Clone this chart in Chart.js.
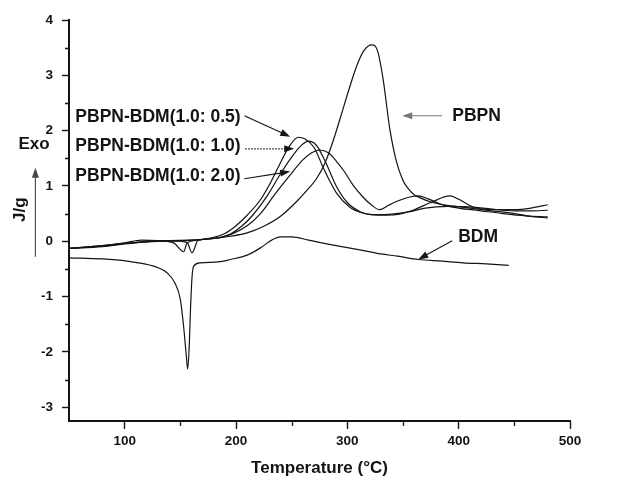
<!DOCTYPE html>
<html>
<head>
<meta charset="utf-8">
<script src="https://cdn.jsdelivr.net/npm/chart.js@4.4.1/dist/chart.umd.min.js"></script>
<style>
  html, body { margin: 0; padding: 0; background: #fff; }
  #wrap { width: 622px; height: 482px; }
</style>
</head>
<body>
<div id="wrap"><canvas id="dscChart" width="622" height="482"></canvas></div>
<script>
// DSC traces: temperature (°C) vs heat flow (J/g)
const pbpnTemp = [50, 75, 100, 120, 140, 160, 180, 195, 210, 225, 240, 256, 265, 272, 280, 287, 294, 302, 309, 315, 322, 327, 332, 338, 344, 350, 354, 360, 366, 375, 390, 410, 430, 450, 465, 480];
const pbpnFlow = [-0.13, -0.09, -0.04, -0.01, 0.0, 0.02, 0.05, 0.09, 0.15, 0.27, 0.45, 0.75, 0.95, 1.12, 1.42, 1.8, 2.25, 2.78, 3.2, 3.45, 3.55, 3.45, 2.95, 2.05, 1.45, 1.1, 0.97, 0.84, 0.78, 0.71, 0.65, 0.6, 0.55, 0.5, 0.45, 0.42];

const mix05Temp = [50, 80, 100, 115, 130, 144, 153, 156, 165, 180, 190, 200, 210, 222, 230, 237, 248, 256, 262, 270, 279, 290, 302, 312, 322, 335, 347, 360, 375, 392, 400, 413, 430, 450, 465, 480];
const mix05Flow = [-0.13, -0.08, -0.03, 0.02, 0.01, -0.03, -0.19, -0.03, 0.02, 0.07, 0.14, 0.28, 0.47, 0.75, 1.02, 1.3, 1.72, 1.88, 1.85, 1.7, 1.3, 0.88, 0.62, 0.52, 0.48, 0.47, 0.49, 0.57, 0.7, 0.82, 0.76, 0.62, 0.57, 0.57, 0.6, 0.66];

const mix10Temp = [50, 80, 100, 120, 140, 156, 160.5, 166, 180, 195, 205, 215, 228, 240, 250, 258, 265, 272, 280, 290, 300, 312, 325, 340, 355, 370, 390, 410, 430, 450, 465, 480];
const mix10Flow = [-0.13, -0.09, -0.04, 0.0, 0.01, -0.02, -0.21, 0.02, 0.05, 0.13, 0.27, 0.47, 0.82, 1.22, 1.52, 1.72, 1.81, 1.74, 1.45, 1.0, 0.7, 0.53, 0.48, 0.49, 0.53, 0.6, 0.63, 0.62, 0.58, 0.55, 0.55, 0.56];

const mix20Temp = [50, 80, 100, 120, 140, 160, 180, 195, 210, 222, 235, 248, 260, 268, 275, 283, 290, 297, 305, 314, 322, 329, 337, 347, 356, 364, 372, 385, 400, 420, 440, 460, 480];
const mix20Flow = [-0.13, -0.1, -0.05, -0.01, 0.01, 0.02, 0.05, 0.12, 0.28, 0.5, 0.85, 1.18, 1.47, 1.6, 1.65, 1.6, 1.45, 1.27, 1.02, 0.8, 0.65, 0.57, 0.65, 0.74, 0.8, 0.82, 0.77, 0.66, 0.6, 0.55, 0.5, 0.46, 0.44];

const bdmTemp = [50, 80, 102, 126, 138, 145, 150, 153, 155.5, 156.6, 158, 159, 160.5, 162, 168, 186, 195, 210, 222, 232, 240, 250, 265, 285, 310, 330, 345, 364, 385, 404, 425, 445];
const bdmFlow = [-0.3, -0.32, -0.36, -0.45, -0.57, -0.75, -1.05, -1.55, -2.1, -2.31, -1.9, -1.3, -0.65, -0.45, -0.39, -0.37, -0.33, -0.25, -0.12, 0.02, 0.08, 0.08, 0.02, -0.06, -0.15, -0.23, -0.27, -0.33, -0.36, -0.39, -0.41, -0.435];

const xTickValues = [100, 200, 300, 400, 500];
const xMinorValues = [150, 250, 350, 450];
const yTickValues = [-3, -2, -1, 0, 1, 2, 3, 4];
const yMinorValues = [-2.5, -1.5, -0.5, 0.5, 1.5, 2.5, 3.5];

const FONT = '"Liberation Sans", Arial, sans-serif';
const INK = '#141414';

const toPoints = (xs, ys) => xs.map((x, i) => ({ x: x, y: ys[i] }));

// labels and arrows, positions in data units
const callouts = [
    { text: 'PBPN-BDM(1.0: 0.5)', at: [55.7, 2.25], from: [207.5, 2.27], to: [248.7, 1.89] },
    { text: 'PBPN-BDM(1.0: 1.0)', at: [55.7, 1.71], from: [208.3, 1.67], to: [252.3, 1.67], dash: [1.5, 1.5] },
    { text: 'PBPN-BDM(1.0: 2.0)', at: [55.7, 1.18], from: [207.5, 1.13], to: [248.7, 1.26] },
    { text: 'PBPN', at: [394.2, 2.27], from: [385.2, 2.27], to: [349.3, 2.27], color: '#777' },
    { text: 'BDM', at: [399.6, 0.065], from: [394.2, 0.01], to: [363.7, -0.33] }
];

function drawArrow(ctx, x1, y1, x2, y2, color, dash) {
    const ang = Math.atan2(y2 - y1, x2 - x1);
    const head = 10, half = 3.5;
    const c = Math.cos(ang), s = Math.sin(ang);
    ctx.save();
    ctx.strokeStyle = color;
    ctx.fillStyle = color;
    ctx.lineWidth = 1.1;
    if (dash) ctx.setLineDash(dash);
    ctx.beginPath();
    ctx.moveTo(x1, y1);
    ctx.lineTo(x2 - c * head * 0.7, y2 - s * head * 0.7);
    ctx.stroke();
    ctx.setLineDash([]);
    ctx.beginPath();
    ctx.moveTo(x2, y2);
    ctx.lineTo(x2 - c * head + s * half, y2 - s * head - c * half);
    ctx.lineTo(x2 - c * head - s * half, y2 - s * head + c * half);
    ctx.closePath();
    ctx.fill();
    ctx.restore();
}

const annotationPlugin = {
    id: 'dscAnnotations',
    afterDraw(chart) {
        const ctx = chart.ctx;
        const xs = chart.scales.x, ys = chart.scales.y;
        const px = v => xs.getPixelForValue(v);
        const py = v => ys.getPixelForValue(v);
        const area = chart.chartArea;

        // minor ticks
        ctx.save();
        ctx.strokeStyle = INK;
        ctx.lineWidth = 1.3;
        ctx.beginPath();
        xMinorValues.forEach(v => {
            const x = Math.round(px(v)) + 0.5;
            ctx.moveTo(x, area.bottom);
            ctx.lineTo(x, area.bottom + 5);
        });
        yMinorValues.forEach(v => {
            const y = Math.round(py(v)) + 0.5;
            ctx.moveTo(area.left, y);
            ctx.lineTo(area.left - 4, y);
        });
        ctx.stroke();
        ctx.restore();

        // callouts
        ctx.save();
        ctx.font = 'bold 17.5px ' + FONT;
        ctx.textBaseline = 'middle';
        ctx.textAlign = 'left';
        callouts.forEach(c => {
            ctx.fillStyle = INK;
            ctx.fillText(c.text, px(c.at[0]), py(c.at[1]));
            drawArrow(ctx, px(c.from[0]), py(c.from[1]), px(c.to[0]), py(c.to[1]), c.color || INK, c.dash);
        });

        // Exo marker and J/g unit on the left
        ctx.font = 'bold 17px ' + FONT;
        ctx.fillStyle = INK;
        ctx.fillText('Exo', px(4.6), py(1.76));
        drawArrow(ctx, px(19.8), py(-0.28), px(19.8), py(1.33), '#444');
        ctx.translate(px(6.4), py(0.57));
        ctx.rotate(-Math.PI / 2);
        ctx.textAlign = 'center';
        ctx.fillText('J/g', 0, 0);
        ctx.restore();
    }
};

const lineStyle = {
    borderColor: INK,
    borderWidth: 1.2,
    pointRadius: 0,
    fill: false,
    cubicInterpolationMode: 'monotone'
};

new Chart(document.getElementById('dscChart'), {
    type: 'line',
    data: {
        datasets: [
            Object.assign({ label: 'PBPN', data: toPoints(pbpnTemp, pbpnFlow) }, lineStyle),
            Object.assign({ label: 'PBPN-BDM(1.0: 0.5)', data: toPoints(mix05Temp, mix05Flow) }, lineStyle),
            Object.assign({ label: 'PBPN-BDM(1.0: 1.0)', data: toPoints(mix10Temp, mix10Flow) }, lineStyle),
            Object.assign({ label: 'PBPN-BDM(1.0: 2.0)', data: toPoints(mix20Temp, mix20Flow) }, lineStyle),
            Object.assign({ label: 'BDM', data: toPoints(bdmTemp, bdmFlow) }, lineStyle)
        ]
    },
    options: {
        responsive: false,
        animation: false,
        layout: { padding: { left: 0, right: 52, top: 20, bottom: 0 } },
        plugins: {
            legend: { display: false },
            tooltip: { enabled: false }
        },
        scales: {
            x: {
                type: 'linear',
                min: 50,
                max: 500,
                afterBuildTicks: s => { s.ticks = xTickValues.map(v => ({ value: v })); },
                afterFit: s => { s.height = 61; },
                grid: { display: true, drawOnChartArea: false, drawTicks: true, tickLength: 8, tickWidth: 1.4, tickColor: INK },
                border: { display: true, color: INK, width: 2 },
                ticks: { color: INK, padding: 4, maxRotation: 0, font: { family: FONT, size: 13.5, weight: 'bold' } },
                title: {
                    display: true,
                    text: 'Temperature (°C)',
                    color: INK,
                    padding: { top: 0, bottom: 3 },
                    font: { family: FONT, size: 17, weight: 'bold' }
                }
            },
            y: {
                type: 'linear',
                min: -3.25,
                max: 4,
                afterBuildTicks: s => { s.ticks = yTickValues.map(v => ({ value: v })); },
                afterFit: s => { s.width = 69; },
                grid: { display: true, drawOnChartArea: false, drawTicks: true, tickLength: 7, tickWidth: 1.4, tickColor: INK },
                border: { display: true, color: INK, width: 2 },
                ticks: { color: INK, padding: 9, font: { family: FONT, size: 13.5, weight: 'bold' } }
            }
        }
    },
    plugins: [annotationPlugin]
});
</script>
</body>
</html>
